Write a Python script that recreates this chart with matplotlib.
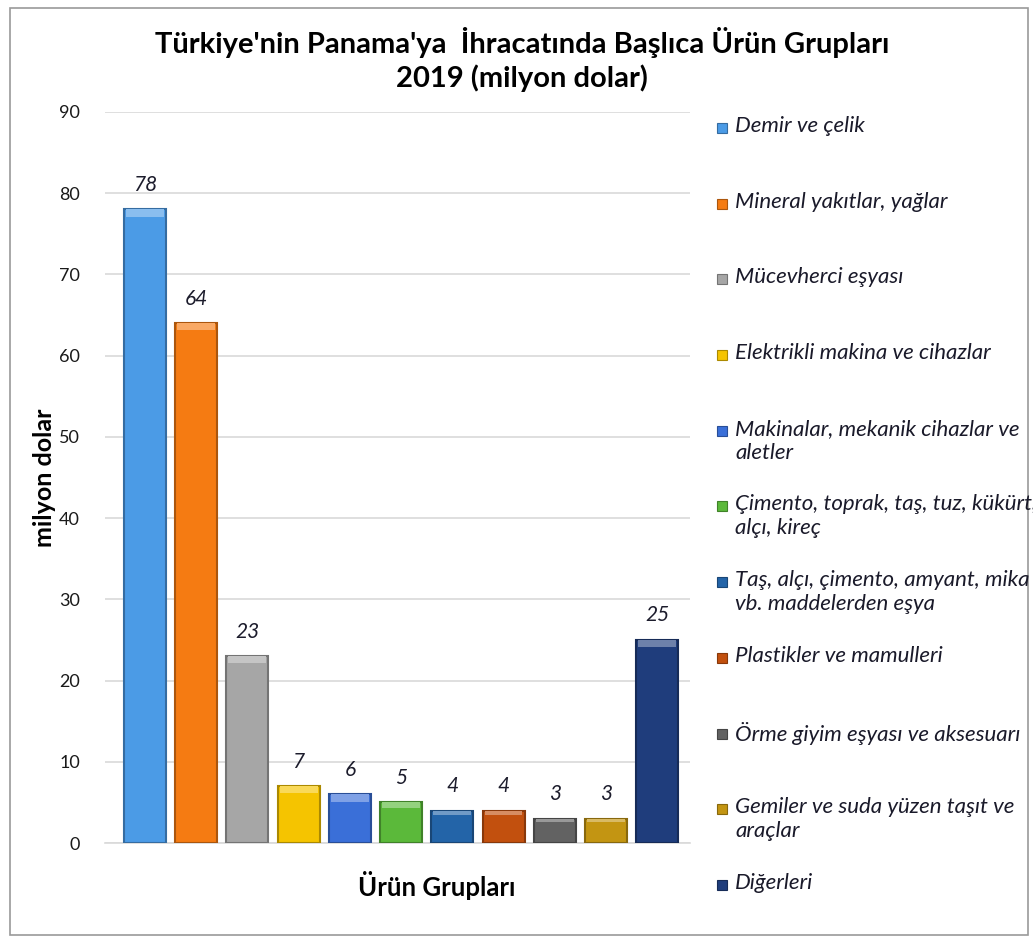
import matplotlib.pyplot as plt
import matplotlib.colors as mcolors
from matplotlib.patches import Rectangle
import numpy as np

plt.rcParams['font.family'] = ['Lato', 'DejaVu Sans']

# data
categories = [
    "Demir ve çelik",
    "Mineral yakıtlar, yağlar",
    "Mücevherci eşyası",
    "Elektrikli makina ve cihazlar",
    "Makinalar, mekanik cihazlar ve\naletler",
    "Çimento, toprak, taş, tuz, kükürt,\nalçı, kireç",
    "Taş, alçı, çimento, amyant, mika\nvb. maddelerden eşya",
    "Plastikler ve mamulleri",
    "Örme giyim eşyası ve aksesuarı",
    "Gemiler ve suda yüzen taşıt ve\naraçlar",
    "Diğerleri",
]
values = [78, 64, 23, 7, 6, 5, 4, 4, 3, 3, 25]
colours = ['#4B9BE6', '#F57B12', '#A6A6A6', '#F5C400', '#3A6FD8', '#5BB93A',
           '#2364A8', '#C2500E', '#626262', '#C39512', '#1F3D7C']

W, H = 1033, 938
fig = plt.figure(figsize=(W / 100, H / 100), dpi=100)

# outer frame
fig.patches.append(Rectangle((10 / W, 1 - 935 / H), 1018 / W, 927 / H,
                             transform=fig.transFigure, fill=False,
                             edgecolor='#9a9a9a', linewidth=1.2))

ax = fig.add_axes([105 / W, 1 - 843 / H, 585 / W, 731 / H])

x = np.arange(len(values))
for i, v in enumerate(values):
    base = mcolors.to_rgb(colours[i])
    dark = tuple(c * 0.7 for c in base)
    light = tuple(c + (1 - c) * 0.35 for c in base)
    ax.bar(x[i], v, width=0.82, color=base, edgecolor=dark, linewidth=1.5, zorder=3)
    ax.bar(x[i], min(0.9, v * 0.15), bottom=v - min(0.9, v * 0.15), width=0.74,
           color=light, linewidth=0, zorder=4)
    ax.text(x[i], v + 1.8, str(v), ha='center', va='bottom', fontsize=15,
            style='italic', color='#1c1c2c', zorder=5)

ax.set_xlim(-0.78, 10.64)
ax.set_ylim(0, 90)
ax.set_yticks(range(0, 91, 10))
ax.set_xticks([])
ax.grid(axis='y', color='#d9d9d9', linewidth=1.2, zorder=0)
for s in ['top', 'right', 'left']:
    ax.spines[s].set_visible(False)
ax.spines['bottom'].set_color('#d9d9d9')
ax.spines['bottom'].set_linewidth(1.2)
ax.tick_params(axis='y', length=0, labelsize=13, pad=18, colors='#1a1a1a')

ax.set_ylabel('milyon dolar', fontsize=18, fontweight='bold', labelpad=2)
fig.text(437 / W, 1 - 885 / H, 'Ürün Grupları', ha='center', va='center',
         fontsize=18.5, fontweight='bold')

fig.text(522 / W, 1 - 42 / H, "Türkiye'nin Panama'ya  İhracatında Başlıca Ürün Grupları",
         ha='center', va='center', fontsize=21, fontweight='bold')
fig.text(522 / W, 1 - 78 / H, "2019 (milyon dolar)", ha='center', va='center',
         fontsize=21, fontweight='bold')

# legend, evenly spaced entries
for i, label in enumerate(categories):
    y = 128 + 75.7 * i
    base = mcolors.to_rgb(colours[i])
    fig.patches.append(Rectangle((717 / W, 1 - (y + 5) / H), 10 / W, 10 / H,
                                 transform=fig.transFigure, facecolor=base,
                                 edgecolor=tuple(c * 0.7 for c in base), linewidth=0.8))
    fig.text(735 / W, 1 - (y - 12) / H, label, ha='left', va='top', fontsize=16,
             style='italic', color='#1a1a2a', linespacing=1.25)

fig.savefig('out.png', dpi=100)
